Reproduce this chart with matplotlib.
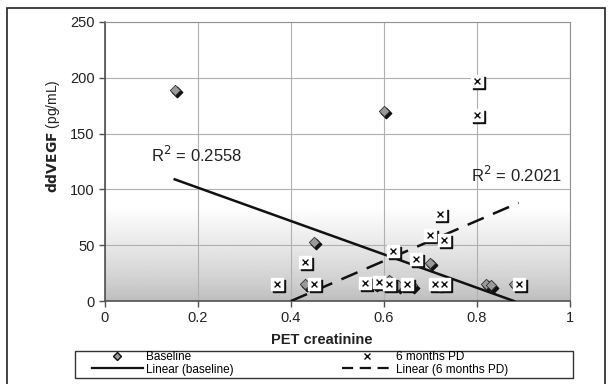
import numpy as np
import matplotlib
matplotlib.use('Agg')
import matplotlib.pyplot as plt
from matplotlib.transforms import offset_copy
from matplotlib.lines import Line2D
from matplotlib.patches import Rectangle

plt.rcParams['font.family'] = ['Liberation Sans', 'DejaVu Sans']

# Baseline measurements
base_x = [0.15, 0.60, 0.45, 0.43, 0.70, 0.82, 0.83, 0.66, 0.61, 0.88, 0.58, 0.63]
base_y = [189, 170, 53, 15, 34, 15, 14, 14, 19, 15, 15, 14]

# 6 months PD measurements
pd_x = [0.80, 0.80, 0.72, 0.70, 0.73, 0.62, 0.67, 0.43, 0.37, 0.45,
        0.56, 0.59, 0.61, 0.65, 0.71, 0.73, 0.89]
pd_y = [197, 167, 78, 59, 55, 45, 38, 35, 15, 15,
        16, 17, 15, 15, 15, 15, 15]

# trend lines (as drawn in the original)
base_fit_x = [0.15, 0.88]
base_fit_y = [109, 0]
pd_fit_x = [0.40, 0.89]
pd_fit_y = [0, 88]

fig = plt.figure(figsize=(6.14, 3.84), dpi=100)
ax = fig.add_axes([0.171, 0.216, 0.757, 0.727])

# background gradient: white on top, grey towards the bottom
grad = np.ones((250, 2))
low = np.linspace(0, 1, 85)
grad[:85, :] = 0.74 + 0.26 * low[:, None] ** 0.8
ax.imshow(grad, cmap='gray', vmin=0, vmax=1, origin='lower', aspect='auto',
          extent=[0, 1, 0, 250], zorder=0)

ax.set_xlim(0, 1)
ax.set_ylim(0, 250)
ax.set_xticks([0, 0.2, 0.4, 0.6, 0.8, 1])
ax.set_xticklabels(['0', '0.2', '0.4', '0.6', '0.8', '1'])
ax.set_yticks([0, 50, 100, 150, 200, 250])
ax.grid(True, color='#b0b0b0', linewidth=0.8)
ax.set_axisbelow(True)
for s in ['top', 'right']:
    ax.spines[s].set_color('#909090')
    ax.spines[s].set_linewidth(0.8)
for s in ['left', 'bottom']:
    ax.spines[s].set_color('#505050')
    ax.spines[s].set_linewidth(1.2)
ax.tick_params(direction='out', length=4, width=1, color='#505050',
               labelsize=10.5, labelcolor='#222222')

# trend lines
ax.plot(base_fit_x, base_fit_y, color='#111111', lw=1.8, zorder=3)
ax.plot(pd_fit_x, pd_fit_y, color='#111111', lw=1.8, dashes=(7, 4), zorder=3)

# markers with a shadow offset down-right
sh = offset_copy(ax.transData, fig=fig, x=1.5, y=-1.5, units='points')
ax.scatter(base_x, base_y, marker='D', s=28, color='#111111', transform=sh, zorder=4)
ax.scatter(base_x, base_y, marker='D', s=28, color='#9a9a9a',
           edgecolors='#333333', linewidths=0.6, zorder=5)

ax.scatter(pd_x, pd_y, marker='s', s=80, color='#111111', transform=sh, zorder=6)
ax.scatter(pd_x, pd_y, marker='s', s=80, color='white', zorder=7)
ax.scatter(pd_x, pd_y, marker='x', s=18, color='#111111', linewidths=1.0, zorder=8)

ax.text(0.10, 131, r'R$^2$ = 0.2558', fontsize=12, va='center', color='#222222')
ax.text(0.787, 113, r'R$^2$ = 0.2021', fontsize=12, va='center', color='#222222')

ax.set_xlabel('PET creatinine', fontsize=10.5, fontweight='bold', color='#222222')
ax.xaxis.set_label_coords(0.466, -0.115)
ax.set_ylabel(r'$\mathbf{ddVEGF}$ (pg/mL)', fontsize=10, color='#222222')
ax.yaxis.set_label_coords(-0.092, 0.59)

# legend: frame drawn separately, two columns placed as in the original
fig.patches.append(Rectangle((0.122, 0.0156), 0.811, 0.070, transform=fig.transFigure,
                             fill=False, edgecolor='#333333', linewidth=1.0))

h_base = Line2D([], [], marker='D', ls='none', markersize=4, color='#9a9a9a',
                markeredgecolor='#111111', markeredgewidth=1.0)
h_base_fit = Line2D([], [], color='#111111', lw=1.6)
h_pd = Line2D([], [], marker='x', ls='none', markersize=4, color='#111111')
h_pd_fit = Line2D([], [], color='#111111', lw=1.6, dashes=(5, 3))

leg_kw = dict(loc='upper left', fontsize=8.5, frameon=False, borderpad=0,
              labelspacing=0.05, handlelength=4.3, handletextpad=0.25,
              borderaxespad=0)
leg1 = fig.legend([h_base, h_base_fit], ['Baseline', 'Linear (baseline)'],
                  bbox_to_anchor=(92 / 614, 1 - 351 / 384), **leg_kw)
fig.legend([h_pd, h_pd_fit], ['6 months PD', 'Linear (6 months PD)'],
           bbox_to_anchor=(342 / 614, 1 - 351 / 384), **leg_kw)

# outer frame of the figure
fig.patches.append(Rectangle((0.012, -0.1), 0.973, 1.08, transform=fig.transFigure,
                             fill=False, edgecolor='#222222', linewidth=1.2))

fig.savefig('out.png', dpi=100)
